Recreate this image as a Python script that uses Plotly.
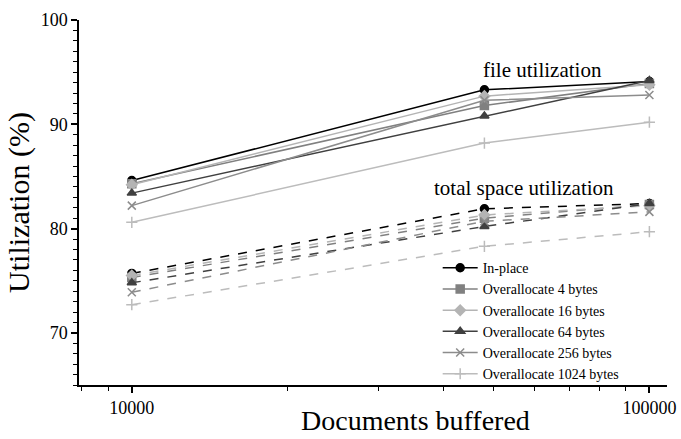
import plotly.graph_objects as go

docs = [10000, 48000, 100000]
series_names = ["In-place", "Overallocate 4 bytes", "Overallocate 16 bytes",
                "Overallocate 64 bytes", "Overallocate 256 bytes", "Overallocate 1024 bytes"]
file_util = [
    [84.6, 93.3, 94.1],
    [84.3, 91.8, 93.9],
    [84.2, 92.7, 93.8],
    [83.4, 90.8, 94.2],
    [82.2, 92.3, 92.8],
    [80.6, 88.2, 90.2],
]
total_util = [
    [75.7, 81.9, 82.4],
    [75.3, 81.0, 82.3],
    [75.5, 81.3, 82.2],
    [74.8, 80.2, 82.4],
    [73.9, 80.7, 81.6],
    [72.7, 78.3, 79.7],
]
colors = ["#000000", "#808080", "#b4b4b4", "#404040", "#8c8c8c", "#bcbcbc"]
symbols = ["circle", "square", "diamond", "triangle-up", "x-thin", "cross-thin"]
x_major = [10000, 100000]
x_minor = [8000, 9000, 20000, 30000, 40000, 50000, 60000, 70000, 80000, 90000]

fig = go.Figure()
for i, name in enumerate(series_names):
    mk = dict(symbol=symbols[i], size=8, color=colors[i],
              line=dict(color=colors[i], width=1.5))
    fig.add_trace(go.Scatter(x=docs, y=file_util[i], mode="lines+markers", name=name,
                             line=dict(color=colors[i], width=1.5), marker=mk,
                             legendgroup=name))
    fig.add_trace(go.Scatter(x=docs, y=total_util[i], mode="lines+markers", name=name,
                             line=dict(color=colors[i], width=1.5, dash="dash"), marker=mk,
                             legendgroup=name, showlegend=False))

fig.add_annotation(x=0.789, xref="paper", y=95.2, yref="y", text="file utilization",
                   xanchor="center", showarrow=False, font=dict(size=21, color="black"))
fig.add_annotation(x=0.757, xref="paper", y=83.9, yref="y", text="total space utilization",
                   xanchor="center", showarrow=False, font=dict(size=21, color="black"))
fig.add_annotation(x=0.573, xref="paper", y=-0.097, yref="paper", text="Documents buffered",
                   xanchor="center", yanchor="middle", showarrow=False,
                   font=dict(size=28, color="black"))

fig.update_layout(
    width=681, height=439,
    margin=dict(l=79, r=14, t=20, b=54, autoexpand=False),
    paper_bgcolor="white", plot_bgcolor="white",
    font=dict(family="Liberation Serif, Times New Roman, serif", color="black", size=18),
    showlegend=True,
    legend=dict(x=0.61, y=0.364, xanchor="left", yanchor="top", bgcolor="rgba(0,0,0,0)",
                font=dict(size=14), tracegroupgap=0, itemwidth=35),
    xaxis=dict(type="log", range=[3.898, 5.034], tickvals=x_major, ticktext=["10000", "100000"],
               ticks="outside", ticklen=6, tickwidth=1.5, tickcolor="black",
               showline=True, linecolor="black", linewidth=1.5, showgrid=False, zeroline=False,
               minor=dict(tickvals=x_minor, ticks="outside", ticklen=4, tickwidth=1.2,
                          tickcolor="black", showgrid=False)),
    yaxis=dict(range=[65, 100], tickvals=[70, 80, 90, 100], ticks="outside", ticklen=6,
               tickwidth=1.5, tickcolor="black",
               showline=True, linecolor="black", linewidth=1.5, showgrid=False, zeroline=False,
               minor=dict(dtick=1, ticks="outside", ticklen=4, tickwidth=1.2,
                          tickcolor="black", showgrid=False),
               title=dict(text="Utilization (%)", font=dict(size=30), standoff=2)),
)

fig.write_html("out.html")
